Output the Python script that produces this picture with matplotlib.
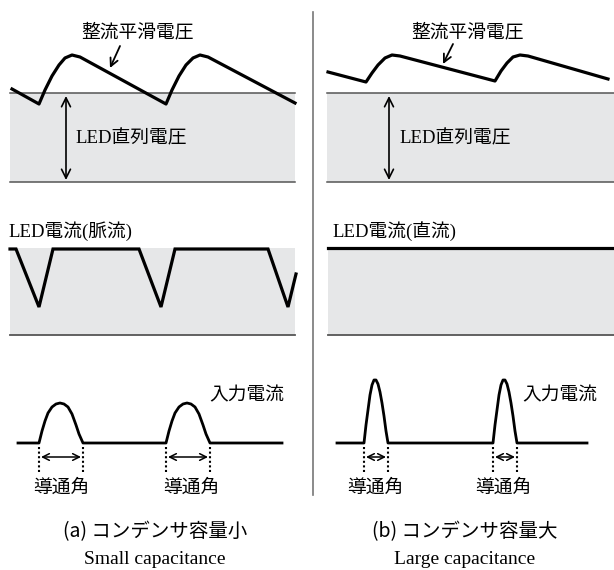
import matplotlib
matplotlib.use("Agg")
import matplotlib.pyplot as plt

# ---------------- data (pixel-like units) ----------------
# (a) small capacitance: rectified smoothed voltage
volt_a_x = [12, 39, 45, 52, 59, 65, 72, 80, 166, 172, 179, 186, 193, 200, 208, 295]
volt_a_y = [89, 104, 90, 76, 65, 58, 55, 57, 104, 90, 76, 65, 58, 55, 57, 103]
# (b) large capacitance: rectified smoothed voltage
volt_b_x = [328, 366, 372, 378, 385, 392, 400, 495, 501, 507, 513, 520, 528, 608]
volt_b_y = [72, 82, 73, 65, 58, 55, 56, 81, 71, 63, 57, 55, 56, 79]
# LED series voltage band (top / bottom levels)
band_top, band_bottom = 93, 182
# (a) LED current (pulsating)
cur_a_x = [10, 16, 39, 53, 139, 161, 175, 268, 288, 296]
cur_a_y = [249, 249, 307, 249, 249, 307, 249, 249, 307, 274]
# (b) LED current (DC)
cur_b_x = [328, 614]
cur_b_y = [248, 248]
cur_band_top, cur_band_bottom = 248, 335
# input current pulses
base_y = 443
pulse_a_dx = [0, 3, 6, 9, 13, 17, 21, 25, 29, 33, 37, 40, 44]
pulse_a_dy = [0, -12, -22, -30, -36, -39, -40, -39, -36, -29, -18, -9, 0]
pulse_a_starts = [39, 166]
pulse_b_dx = [0, 2, 4, 6, 8, 10, 12, 14, 16, 18, 20, 22, 24]
pulse_b_dy = [0, -18, -33, -48, -58, -63, -63, -59, -51, -40, -27, -12, 0]
pulse_b_starts = [364, 493]

labels_voltage = "整流平滑電圧"
labels_led_v = "LED直列電圧"
label_cur_a = "LED電流(脈流)"
label_cur_b = "LED電流(直流)"
label_in = "入力電流"
label_angle = "導通角"
caption_a = ["(a) コンデンサ容量小", "Small capacitance"]
caption_b = ["(b) コンデンサ容量大", "Large capacitance"]

# ---------------- drawing ----------------
fig = plt.figure(figsize=(6.14, 5.70), dpi=100)
ax = fig.add_axes([0, 0, 1, 1])
ax.set_xlim(0, 614)
ax.set_ylim(570, 0)
ax.axis("off")

gray = "#e6e7e8"
edge = "#555555"
lw_w = 2.3
serif_cjk = ["Liberation Serif", "Noto Sans CJK JP"]
sans_cjk = ["Noto Sans CJK JP", "DejaVu Sans"]
fs = 13.5

# separator
ax.plot([313, 313], [12, 495], color="#777777", lw=1.2)

# voltage bands
for x0, x1 in [(10, 295), (327, 614)]:
    ax.fill_between([x0, x1], band_top, band_bottom, color=gray, lw=0)
    ax.plot([x0, x1], [band_top, band_top], color=edge, lw=1.1)
    ax.plot([x0, x1], [band_bottom, band_bottom], color=edge, lw=1.1)

ax.plot(volt_a_x, volt_a_y, color="black", lw=lw_w, solid_joinstyle="round")
ax.plot(volt_b_x, volt_b_y, color="black", lw=lw_w, solid_joinstyle="round")

# voltage labels + arrows
for cx, (ax0, ay0, ax1, ay1) in [(137, (120, 46, 110, 68)), (468, (453, 44, 443, 64))]:
    ax.text(cx, 32, labels_voltage, family=serif_cjk, fontsize=fs, ha="center", va="center")
    ax.annotate("", xy=(ax1, ay1), xytext=(ax0, ay0),
                arrowprops=dict(arrowstyle="->", lw=1.3, color="black", mutation_scale=14,
                                shrinkA=0, shrinkB=0))

for xa, xt in [(66, 75), (389, 399)]:
    ax.annotate("", xy=(xa, 96), xytext=(xa, 180),
                arrowprops=dict(arrowstyle="<->", lw=1.2, color="black", mutation_scale=16,
                                shrinkA=0, shrinkB=0))
    ax.text(xt, 139, labels_led_v, family=serif_cjk, fontsize=fs, ha="left", va="center")

# LED current bands
for x0, x1 in [(10, 295), (328, 614)]:
    ax.fill_between([x0, x1], cur_band_top, cur_band_bottom, color=gray, lw=0)
    ax.plot([x0, x1], [cur_band_bottom, cur_band_bottom], color=edge, lw=1.3)

ax.plot(cur_a_x, cur_a_y, color="black", lw=lw_w, solid_joinstyle="miter")
ax.plot(cur_b_x, cur_b_y, color="black", lw=lw_w)
ax.text(8, 231, label_cur_a, family=serif_cjk, fontsize=fs, ha="left", va="center")
ax.text(332, 231, label_cur_b, family=serif_cjk, fontsize=fs, ha="left", va="center")

# input current
def draw_pulses(x0, x1, starts, dx, dy, label_x, angle_centers):
    xs, ys = [x0], [base_y]
    for s in starts:
        for a, b in zip(dx, dy):
            xs.append(s + a)
            ys.append(base_y + b)
    xs.append(x1)
    ys.append(base_y)
    ax.plot(xs, ys, color="black", lw=lw_w - 0.3, solid_joinstyle="round")
    for s, c in zip(starts, angle_centers):
        e = s + dx[-1]
        for xv in (s, e):
            ax.plot([xv, xv], [447, 472], color="black", lw=1.5, linestyle=(0, (1, 1.2)))
        ax.annotate("", xy=(s + 2, 457), xytext=(e - 2, 457),
                    arrowprops=dict(arrowstyle="<->", lw=1.1, color="black", mutation_scale=12,
                                    shrinkA=0, shrinkB=0))
        ax.text(c, 487, label_angle, family=sans_cjk, fontsize=fs, ha="center", va="center")
    ax.text(label_x, 395, label_in, family=sans_cjk, fontsize=fs, ha="left", va="center")

draw_pulses(18, 282, pulse_a_starts, pulse_a_dx, pulse_a_dy, 209, [61, 191])
draw_pulses(337, 587, pulse_b_starts, pulse_b_dx, pulse_b_dy, 522, [375, 503])

# captions
for cx, cap in [(155, caption_a), (465, caption_b)]:
    ax.text(cx, 532, cap[0], family=sans_cjk, fontsize=14, ha="center", va="center")
    ax.text(cx, 559, cap[1], family=["Liberation Serif"], fontsize=14, ha="center", va="center")

fig.savefig("out.png", dpi=100, facecolor="white")
